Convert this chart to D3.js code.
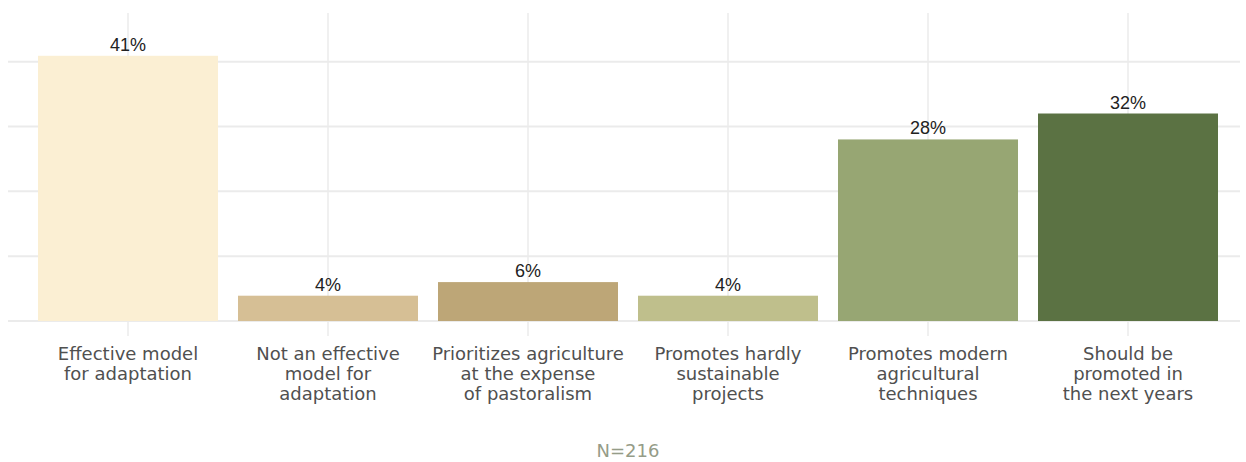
<!DOCTYPE html>
<html><head><meta charset="utf-8">
<script src="https://cdn.jsdelivr.net/npm/d3@7"></script>
<style>body{margin:0;background:#fff;}svg{display:block;}</style>
</head><body>
<svg id="chart" width="1246" height="462"></svg>
<script>
const categories = [
  ["Effective model", "for adaptation"],
  ["Not an effective", "model for", "adaptation"],
  ["Prioritizes agriculture", "at the expense", "of pastoralism"],
  ["Promotes hardly", "sustainable", "projects"],
  ["Promotes modern", "agricultural", "techniques"],
  ["Should be", "promoted in", "the next years"]
];
const values = [40.9, 3.9, 6.0, 3.9, 28.0, 32.0];
const valueLabels = ["41%", "4%", "6%", "4%", "28%", "32%"];
const colors = ["#FBEFD3", "#D6BF95", "#BDA677", "#BFBF8C", "#97A673", "#5B7243"];
const yTicks = [0, 10, 20, 30, 40];
const note = "N=216";

const svg = d3.select("#chart");
const ids = categories.map((c, i) => i);
const x = d3.scaleBand().domain(ids).range([28, 1228]).paddingInner(0.1).paddingOuter(0.05);
const y = d3.scaleLinear().domain([0, 47.5]).range([321, 13]);

// horizontal grid
svg.append("g").selectAll("line").data(yTicks).join("line")
  .attr("x1", 8).attr("x2", 1240)
  .attr("y1", d => y(d)).attr("y2", d => y(d))
  .attr("stroke", "#ebebeb").attr("stroke-width", 2);
// vertical grid
svg.append("g").selectAll("line").data(ids).join("line")
  .attr("x1", d => x(d) + x.bandwidth() / 2).attr("x2", d => x(d) + x.bandwidth() / 2)
  .attr("y1", y.range()[1]).attr("y2", 336)
  .attr("stroke", "#ebebeb").attr("stroke-width", 1.5);

// bars
svg.append("g").selectAll("rect").data(values).join("rect")
  .attr("x", (d, i) => x(i)).attr("width", x.bandwidth())
  .attr("y", d => y(d)).attr("height", d => y(0) - y(d))
  .attr("fill", (d, i) => colors[i]);

// value labels
svg.append("g").selectAll("text").data(values).join("text")
  .attr("x", (d, i) => x(i) + x.bandwidth() / 2)
  .attr("y", d => y(d) - 5)
  .attr("text-anchor", "middle")
  .attr("font-family", "Liberation Sans, Arial, sans-serif")
  .attr("font-size", 18).attr("fill", "#222")
  .text((d, i) => valueLabels[i]);

// category labels
const cat = svg.append("g").selectAll("text").data(categories).join("text")
  .attr("x", (d, i) => x(i) + x.bandwidth() / 2)
  .attr("y", 360)
  .attr("text-anchor", "middle")
  .attr("font-family", "DejaVu Sans, sans-serif")
  .attr("font-size", 18).attr("fill", "#505050");
cat.each(function(d) {
  const t = d3.select(this);
  d.forEach((line, k) => {
    t.append("tspan").attr("x", t.attr("x")).attr("dy", k === 0 ? 0 : 20).text(line);
  });
});

svg.append("text").attr("x", 628).attr("y", 457)
  .attr("text-anchor", "middle")
  .attr("font-family", "DejaVu Sans, sans-serif")
  .attr("font-size", 18).attr("fill", "#959c88")
  .text(note);
</script>
</body></html>
